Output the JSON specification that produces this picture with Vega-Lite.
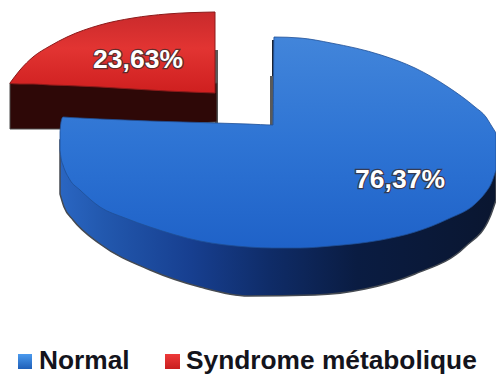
{
"$schema":"https://vega.github.io/schema/vega-lite/v6.json",
"width":496,"height":374,"padding":0,"autosize":{"type":"none"},
"background":"white",
"view":{"stroke":null},
"config":{"view":{"stroke":null},"axis":{"domain":false}},
"datasets":{
"redEdge":[{"x0":215,"x1":218,"y0":50,"y1":124}],
"redSide":[{"x":10,"y":83,"y2":129},{"x":60,"y":83,"y2":129},{"x":120,"y":83,"y2":127},{"x":217,"y":83,"y2":122}],
"redTop":[{"x":10,"y":83,"y2":83.5},{"x":20,"y":70,"y2":84},{"x":33,"y":57,"y2":84},{"x":50,"y":46,"y2":85},{"x":67,"y":37,"y2":85.5},{"x":100,"y":25,"y2":87},{"x":133,"y":18,"y2":89},{"x":167,"y":14,"y2":91},{"x":215,"y":12,"y2":93}],
"blueEdge":[{"x0":270,"x1":274,"y0":76,"y1":125,"c":"#5a5a5a"},{"x0":272,"x1":275,"y0":40,"y1":76,"c":"#1c2433"}],
"blueSide":[{"x":60,"y":140,"y2":194},{"x":64,"y":140,"y2":207},{"x":73,"y":140,"y2":220},{"x":100,"y":140,"y2":244},{"x":150,"y":140,"y2":270},{"x":200,"y":140,"y2":287},{"x":248,"y":140,"y2":296},{"x":315,"y":140,"y2":295},{"x":365,"y":140,"y2":289},{"x":415,"y":140,"y2":274},{"x":465,"y":140,"y2":247},{"x":490,"y":140,"y2":217},{"x":496,"y":140,"y2":200}],
"blueTop":[{"x":60,"y":132,"y2":150},{"x":61,"y":122,"y2":158},{"x":63,"y":117,"y2":165},{"x":70,"y":117.5,"y2":180},{"x":80,"y":118,"y2":190},{"x":100,"y":119,"y2":207},{"x":125,"y":120,"y2":218},{"x":150,"y":121,"y2":227},{"x":200,"y":122.5,"y2":241},{"x":248,"y":124,"y2":247},{"x":273,"y":125,"y2":248},{"x":274,"y":37,"y2":248},{"x":300,"y":38,"y2":248},{"x":331,"y":43,"y2":246},{"x":381,"y":55,"y2":240},{"x":415,"y":68,"y2":232},{"x":448,"y":87,"y2":219},{"x":475,"y":107,"y2":204},{"x":486,"y":117,"y2":192},{"x":491,"y":125,"y2":184},{"x":496,"y":133,"y2":170}],
"shares":[{"group":"Syndrome métabolique","share":23.63,"label":"23,63%","x":138,"y":60},{"group":"Normal","share":76.37,"label":"76,37%","x":400,"y":180}],
"legend":[{"group":"Normal","x":39,"y":361},{"group":"Syndrome métabolique","x":186,"y":361}],
"swatchBlue":[{"x0":18,"x1":32,"y0":354,"y1":369}],
"swatchRed":[{"x0":165,"x1":180,"y0":354,"y1":369}]
},
"layer":[
{"data":{"name":"redEdge"},"mark":{"type":"rect","color":"#5a5a5a"},"encoding":{"x":{"field":"x0","type":"quantitative","scale":{"domain":[0,496],"nice":false,"zero":false},"axis":null},"x2":{"field":"x1"},"y":{"field":"y0","type":"quantitative","scale":{"domain":[374,0],"nice":false,"zero":false},"axis":null},"y2":{"field":"y1"}}},
{"data":{"name":"redSide"},"mark":{"type":"area","orient":"vertical","interpolate":"linear","color":"#2e0807","stroke":"#4a4a4a","strokeWidth":1},"encoding":{"x":{"field":"x","type":"quantitative"},"y":{"field":"y","type":"quantitative"},"y2":{"field":"y2"}}},
{"data":{"name":"redTop"},"mark":{"type":"area","orient":"vertical","interpolate":"monotone","stroke":"#8c1a1a","strokeWidth":1,"fill":{"gradient":"linear","x1":0,"y1":0,"x2":0,"y2":1,"stops":[{"offset":0,"color":"#c92a2c"},{"offset":0.45,"color":"#e23432"},{"offset":1,"color":"#cf1f1f"}]}},"encoding":{"x":{"field":"x","type":"quantitative"},"y":{"field":"y","type":"quantitative"},"y2":{"field":"y2"}}},
{"data":{"name":"blueEdge"},"mark":{"type":"rect"},"encoding":{"x":{"field":"x0","type":"quantitative"},"x2":{"field":"x1"},"y":{"field":"y0","type":"quantitative"},"y2":{"field":"y1"},"fill":{"field":"c","type":"nominal","scale":null}}},
{"data":{"name":"blueSide"},"mark":{"type":"area","orient":"vertical","interpolate":"monotone","stroke":"#454a52","strokeWidth":1.5,"fill":{"gradient":"linear","x1":0,"y1":0,"x2":1,"y2":0,"stops":[{"offset":0,"color":"#2a66c2"},{"offset":0.1,"color":"#2258ae"},{"offset":0.3,"color":"#173f90"},{"offset":0.48,"color":"#0f2c68"},{"offset":0.68,"color":"#0a1c42"},{"offset":1,"color":"#0a1630"}]}},"encoding":{"x":{"field":"x","type":"quantitative"},"y":{"field":"y","type":"quantitative"},"y2":{"field":"y2"}}},
{"data":{"name":"blueTop"},"mark":{"type":"area","orient":"vertical","interpolate":"monotone","stroke":"#1f4f96","strokeWidth":0.8,"fill":{"gradient":"linear","x1":0,"y1":0,"x2":0,"y2":1,"stops":[{"offset":0,"color":"#4285da"},{"offset":0.5,"color":"#2e74d4"},{"offset":1,"color":"#1f62c8"}]}},"encoding":{"x":{"field":"x","type":"quantitative"},"y":{"field":"y","type":"quantitative"},"y2":{"field":"y2"}}},
{"data":{"name":"shares"},"mark":{"type":"text","font":"Liberation Sans","fontWeight":"bold","fontSize":26.5,"align":"center","baseline":"middle","color":"#3a2020","stroke":"#3a2a2a","strokeWidth":2.5,"strokeOpacity":0.75},"encoding":{"x":{"field":"x","type":"quantitative"},"y":{"field":"y","type":"quantitative"},"text":{"field":"label"}}},
{"data":{"name":"shares"},"mark":{"type":"text","font":"Liberation Sans","fontWeight":"bold","fontSize":26.5,"align":"center","baseline":"middle","color":"#ffffff"},"encoding":{"x":{"field":"x","type":"quantitative"},"y":{"field":"y","type":"quantitative"},"text":{"field":"label"}}},
{"data":{"name":"swatchBlue"},"mark":{"type":"rect","fill":{"gradient":"linear","x1":0,"y1":0,"x2":0,"y2":1,"stops":[{"offset":0,"color":"#4a9aee"},{"offset":1,"color":"#1f5fb8"}]}},"encoding":{"x":{"field":"x0","type":"quantitative"},"x2":{"field":"x1"},"y":{"field":"y0","type":"quantitative"},"y2":{"field":"y1"}}},
{"data":{"name":"swatchRed"},"mark":{"type":"rect","fill":{"gradient":"linear","x1":0,"y1":0,"x2":0,"y2":1,"stops":[{"offset":0,"color":"#ee3a3a"},{"offset":1,"color":"#c81e1e"}]}},"encoding":{"x":{"field":"x0","type":"quantitative"},"x2":{"field":"x1"},"y":{"field":"y0","type":"quantitative"},"y2":{"field":"y1"}}},
{"data":{"name":"legend"},"mark":{"type":"text","font":"Liberation Sans","fontWeight":"bold","fontSize":26.3,"align":"left","baseline":"middle","color":"#14141c"},"encoding":{"x":{"field":"x","type":"quantitative"},"y":{"field":"y","type":"quantitative"},"text":{"field":"group"}}}
]
}
